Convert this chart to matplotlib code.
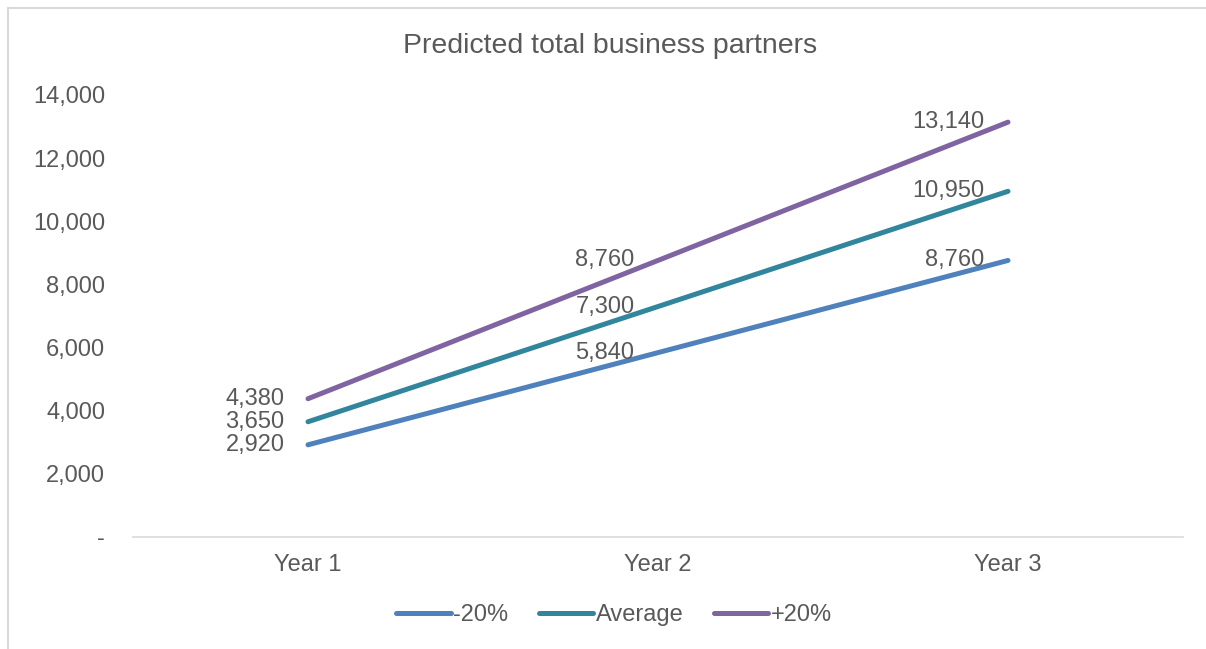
import matplotlib.pyplot as plt
from matplotlib.lines import Line2D
from matplotlib.ticker import FuncFormatter

plt.rcParams['font.family'] = ['Liberation Sans', 'DejaVu Sans']

years = ['Year 1', 'Year 2', 'Year 3']
low = [2920, 5840, 8760]
average = [3650, 7300, 10950]
high = [4380, 8760, 13140]

series_names = ['-20%', 'Average', '+20%']
colors = ['#4F81BD', '#31859C', '#8064A2']
text_col = '#595959'
fs = 17

W, H = 1206, 649
fig = plt.figure(figsize=(W / 100, H / 100), dpi=100)
ax = fig.add_axes([133 / W, 1 - 537 / H, 1050 / W, (537 - 95) / H])

x = range(len(years))
for vals, name, c in zip([low, average, high], series_names, colors):
    ax.plot(x, vals, color=c, lw=3.6, solid_capstyle='round', label=name)
    for xi, v in zip(x, vals):
        ax.annotate(f'{v:,}', (xi, v), xytext=(-17, 0), textcoords='offset points',
                    ha='right', va='center', fontsize=fs, color=text_col)

ax.set_xlim(-0.5, 2.5)
ax.set_ylim(0, 14000)
ax.set_yticks(range(0, 14001, 2000))
ax.yaxis.set_major_formatter(FuncFormatter(lambda v, p: '-' if v == 0 else f'{int(v):,}'))
ax.set_xticks(list(x))
ax.set_xticklabels(years)
ax.tick_params(axis='y', length=0, pad=20, labelsize=fs, labelcolor=text_col)
ax.tick_params(axis='x', length=0, pad=12, labelsize=fs, labelcolor=text_col)
for s in ['top', 'right', 'left']:
    ax.spines[s].set_visible(False)
ax.spines['bottom'].set_color('#D9D9D9')
ax.spines['bottom'].set_linewidth(1.2)

fig.suptitle('Predicted total business partners', x=610 / W, y=1 - 46 / H,
             va='center', fontsize=20.5, color=text_col)

fig.legend(loc='center', bbox_to_anchor=(614 / W, 1 - 615 / H), ncol=3, frameon=False,
           fontsize=fs, labelcolor=text_col, handlelength=2.3, handletextpad=0.1,
           columnspacing=1.3)

# outer chart border (only top and left are in view)
fig.add_artist(Line2D([8 / W, 1], [1 - 8 / H, 1 - 8 / H], color='#D9D9D9', lw=1.5))
fig.add_artist(Line2D([8 / W, 8 / W], [0, 1 - 8 / H], color='#D9D9D9', lw=1.5))

fig.savefig('out.png', dpi=100, facecolor='white')
